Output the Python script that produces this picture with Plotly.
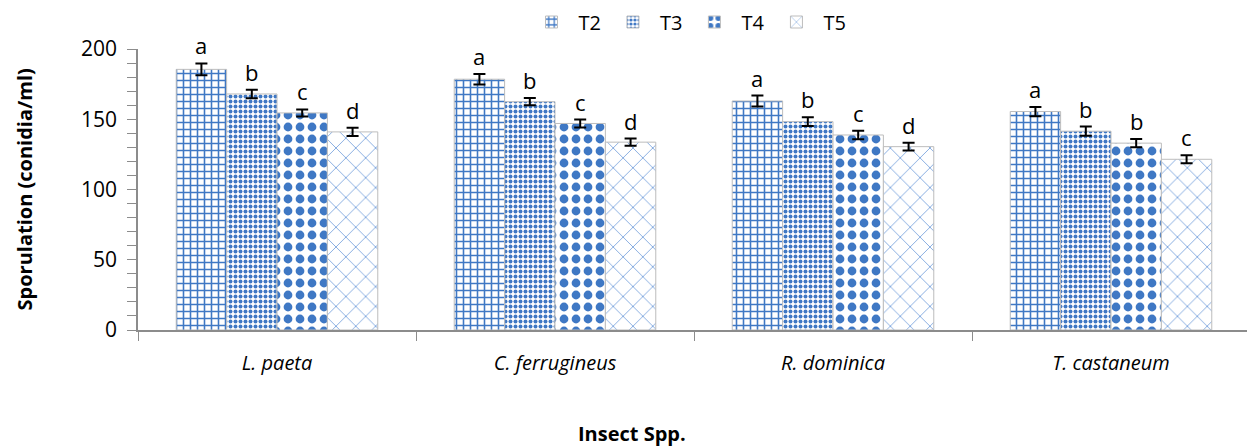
import plotly.graph_objects as go

categories = ["L. paeta", "C. ferrugineus", "R. dominica", "T. castaneum"]
series_names = ["T2", "T3", "T4", "T5"]
t2 = [185.5, 178.5, 163.0, 155.5]
t3 = [168.0, 162.5, 148.3, 141.5]
t4 = [154.5, 147.0, 138.8, 133.0]
t5 = [141.0, 133.7, 130.5, 121.5]
t2_err = [4.2, 3.7, 3.9, 3.3]
t3_err = [3.0, 2.6, 3.1, 3.3]
t4_err = [2.5, 2.8, 3.0, 3.0]
t5_err = [3.0, 2.6, 2.8, 2.8]
t2_letters = ["a", "a", "a", "a"]
t3_letters = ["b", "b", "b", "b"]
t4_letters = ["c", "c", "c", "b"]
t5_letters = ["d", "d", "d", "c"]

values = [t2, t3, t4, t5]
errors = [t2_err, t3_err, t4_err, t5_err]
letters = [t2_letters, t3_letters, t4_letters, t5_letters]

blue = "#3f78c4"
patterns = [
    dict(shape="+", size=7, solidity=0.4, fgcolor=blue, bgcolor="white", fgopacity=1),
    dict(shape=".", size=5, solidity=0.5, fgcolor=blue, bgcolor="white", fgopacity=1),
    dict(shape=".", size=12, solidity=0.42, fgcolor=blue, bgcolor="white", fgopacity=1),
    dict(shape="x", size=14, solidity=0.1, fgcolor="#5b8fd6", bgcolor="white", fgopacity=1),
]

FONT = "Open Sans"
fig = go.Figure()
for i in range(4):
    fig.add_trace(go.Bar(
        name=series_names[i],
        x=categories,
        y=values[i],
        marker=dict(color="white", pattern=patterns[i],
                    line=dict(color="#bdbdbd", width=1)),
        error_y=dict(type="data", array=errors[i], color="black",
                     thickness=2, width=6),
        hoverinfo="y",
    ))

# letter annotations above error bars
n = len(series_names)
bargap = 0.275
group_w = 1 - bargap
bar_w = group_w / n
for i in range(n):
    for j, cat in enumerate(categories):
        xoff = j - group_w / 2 + bar_w * (i + 0.5)
        fig.add_annotation(
            x=xoff, y=values[i][j] + errors[i][j], xref="x", yref="y",
            text=letters[i][j], showarrow=False, yanchor="bottom", yshift=1,
            font=dict(family=FONT, size=22, color="black"),
        )

# page body has an 8px margin; compensate so the drawing lands where intended
OFF = 8
W, H = 1255 - OFF, 447 - OFF
L, R, T, B = 138 - OFF, 5, 49 - OFF, 117
pw, ph = W - L - R, H - T - B

def px_x(x):
    return (x - OFF - L) / pw

def px_y(y):
    return ((H - B) - (y - OFF)) / ph

fig.add_annotation(
    text="<b>Sporulation (conidia/ml)</b>", textangle=-90,
    xref="paper", yref="paper", x=px_x(24), y=0.5,
    xanchor="center", yanchor="middle", showarrow=False,
    font=dict(family=FONT, size=20, color="black"),
)
fig.add_annotation(
    text="<b>Insect Spp.</b>",
    xref="paper", yref="paper", x=px_x(632), y=px_y(433),
    xanchor="center", yanchor="middle", showarrow=False,
    font=dict(family=FONT, size=20, color="black"),
)

fig.update_layout(
    width=W, height=H,
    margin=dict(l=L, r=R, t=T, b=B, autoexpand=False),
    paper_bgcolor="white", plot_bgcolor="white",
    barmode="group", bargap=bargap, bargroupgap=0,
    font=dict(family=FONT, color="black"),
    legend=dict(orientation="h", x=px_x(688), xanchor="center",
                y=px_y(22), yanchor="middle",
                font=dict(family=FONT, size=20), itemwidth=44,
                traceorder="normal"),
    showlegend=True,
)
fig.update_xaxes(
    type="category", range=[-0.5, 3.5],
    showline=True, linecolor="#8c8c8c", linewidth=1.5,
    ticks="outside", tickson="boundaries", ticklen=9, tickcolor="#8c8c8c",
    tickfont=dict(family=FONT, size=20, style="italic"),
    ticklabelstandoff=14,
    showgrid=False,
)
fig.update_yaxes(
    range=[0, 200], dtick=50,
    showline=True, linecolor="#8c8c8c", linewidth=1.5,
    ticks="outside", ticklen=9, tickcolor="#8c8c8c",
    minor=dict(dtick=10, ticks="outside", ticklen=9, tickcolor="#8c8c8c"),
    tickfont=dict(family=FONT, size=21),
    ticklabelstandoff=6,
    showgrid=False, zeroline=False,
)

fig.write_html("out.html")
